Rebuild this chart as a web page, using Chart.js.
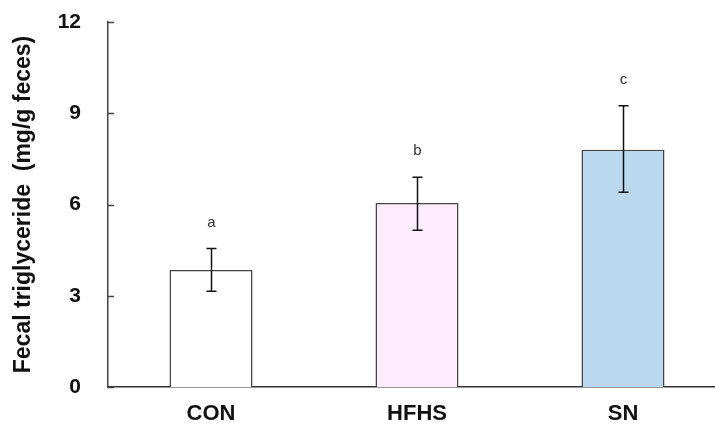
<!DOCTYPE html>
<html>
<head>
<meta charset="utf-8">
<script src="https://cdn.jsdelivr.net/npm/chart.js@4.4.1/dist/chart.umd.min.js"></script>
<style>
  html, body { margin: 0; padding: 0; background: #fff; overflow: hidden; }
  #wrap { width: 726px; height: 425px; }
</style>
</head>
<body>
<div id="wrap"><canvas id="tgChart" width="726" height="425"></canvas></div>
<script>
// data
const groups = ['CON', 'HFHS', 'SN'];
const means = [3.85, 6.05, 7.8];
const errLow = [3.15, 5.15, 6.4];
const errHigh = [4.55, 6.9, 9.25];
const letters = ['a', 'b', 'c'];
const yTicks = [0, 3, 6, 9, 12];
const barColors = ['#ffffff', '#fdecfc', '#bad8ee'];

const fontFamily = "Arial, 'Liberation Sans', sans-serif";

// error bars, inward tick marks and significance letters
const extrasPlugin = {
    id: 'extras',
    afterDatasetsDraw(chart) {
        const ctx = chart.ctx;
        const x = chart.scales.x;
        const y = chart.scales.y;

        ctx.save();
        // tick marks pointing into the plot
        ctx.strokeStyle = '#444';
        ctx.lineWidth = 1.5;
        yTicks.forEach(v => {
            const py = Math.round(y.getPixelForValue(v)) + 0.5;
            ctx.beginPath();
            ctx.moveTo(x.left, py);
            ctx.lineTo(x.left + 6, py);
            ctx.stroke();
        });

        // error bars
        ctx.strokeStyle = '#111';
        ctx.lineWidth = 1.5;
        groups.forEach((g, i) => {
            const px = Math.round(x.getPixelForValue(i)) + 0.5;
            const top = y.getPixelForValue(errHigh[i]);
            const bot = y.getPixelForValue(errLow[i]);
            ctx.beginPath();
            ctx.moveTo(px, top);
            ctx.lineTo(px, bot);
            ctx.moveTo(px - 5, top);
            ctx.lineTo(px + 5, top);
            ctx.moveTo(px - 5, bot);
            ctx.lineTo(px + 5, bot);
            ctx.stroke();

            // letter above the bar
            ctx.fillStyle = '#333';
            ctx.font = '15px ' + fontFamily;
            ctx.textAlign = 'center';
            ctx.textBaseline = 'middle';
            ctx.fillText(letters[i], px, top - 26);
        });
        ctx.restore();
    }
};

const ctx = document.getElementById('tgChart').getContext('2d');
const tgChart = new Chart(ctx, {
    type: 'bar',
    data: {
        labels: groups,
        datasets: [{
            data: means,
            backgroundColor: barColors,
            borderColor: '#444',
            borderWidth: 1.5,
            barPercentage: 0.403,
            categoryPercentage: 1
        }]
    },
    options: {
        responsive: false,
        animation: false,
        layout: { padding: { top: 22, left: 0, right: 0, bottom: 0 } },
        plugins: {
            legend: { display: false },
            tooltip: { enabled: false }
        },
        scales: {
            x: {
                grid: { display: false, drawTicks: false },
                border: { display: true, color: '#333', width: 1.5 },
                ticks: {
                    color: '#111',
                    padding: 14,
                    font: { family: fontFamily, size: 22, weight: 'bold' }
                },
                afterFit: scale => { scale.height = 38; }
            },
            y: {
                min: 0,
                max: 12,
                afterBuildTicks: scale => { scale.ticks = yTicks.map(v => ({ value: v })); },
                grid: { display: false, drawTicks: false },
                border: { display: true, color: '#444', width: 1.5 },
                ticks: {
                    color: '#111',
                    padding: 27,
                    font: { family: fontFamily, size: 21, weight: 'bold' }
                },
                title: {
                    display: true,
                    text: 'Fecal triglyceride  (mg/g feces)',
                    color: '#111',
                    padding: { top: 10, bottom: 0 },
                    font: { family: fontFamily, size: 23, weight: 'bold' }
                },
                afterFit: scale => {
                    scale.width = 108;
                    scale.paddingTop = 0;
                    scale.paddingBottom = 0;
                }
            }
        }
    },
    plugins: [extrasPlugin]
});
</script>
</body>
</html>
